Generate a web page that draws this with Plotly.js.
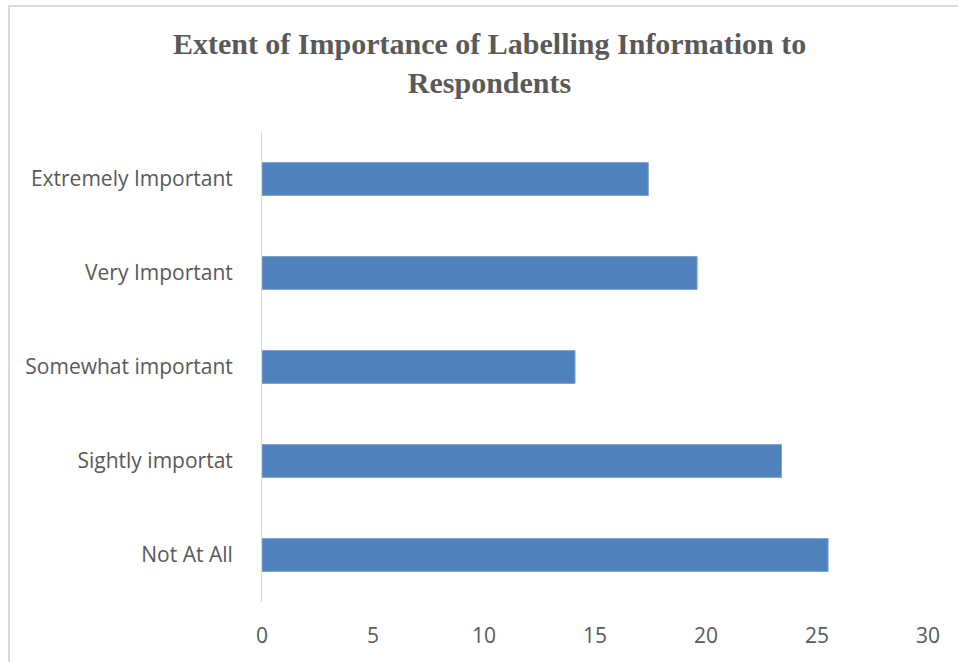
<!DOCTYPE html>
<html>
<head>
<meta charset="utf-8">
<script src="https://cdn.plot.ly/plotly-3.0.1.min.js"></script>
<style>
html,body{margin:0;padding:0;background:#fff;}
#wrap{position:relative;width:958px;height:662px;overflow:hidden;}
#chart{position:absolute;left:0;top:0;width:958px;height:662px;}
#frame{position:absolute;left:8px;top:5px;width:960px;height:670px;border-left:2px solid #d9d9d9;border-top:2px solid #d9d9d9;pointer-events:none;box-sizing:border-box;}
</style>
</head>
<body>
<div id="wrap"><div id="chart"></div><div id="frame"></div></div>
<script>
const categories = ["Not At All", "Sightly importat", "Somewhat important", "Very Important", "Extremely Important"];
const values = [25.5, 23.4, 14.1, 19.6, 17.4];
const xTicks = [0, 5, 10, 15, 20, 25, 30];

const trace = {
  type: 'bar',
  orientation: 'h',
  y: categories,
  x: values,
  marker: {color: '#4f81bd', line: {color: '#7fa3d0', width: 1}},
  hoverinfo: 'x+y'
};

const layout = {
  width: 958,
  height: 662,
  margin: {l: 262, r: 30, t: 132, b: 60},
  paper_bgcolor: '#ffffff',
  plot_bgcolor: '#ffffff',
  showlegend: false,
  bargap: 0.65,
  title: {
    text: 'Extent of Importance of Labelling Information to<br>Respondents',
    font: {family: 'Liberation Serif, Times New Roman, serif', size: 30, color: '#595959', weight: 'bold'},
    x: 0.511, xref: 'container', xanchor: 'center',
    y: 0.918, yref: 'container', yanchor: 'middle'
  },
  xaxis: {
    range: [0, 30],
    tickvals: xTicks,
    ticktext: xTicks.map(String),
    showgrid: false,
    zeroline: false,
    showline: false,
    ticks: '',
    ticklabelstandoff: 19,
    tickfont: {family: 'Open Sans, Liberation Sans, sans-serif', size: 21, color: '#595959'}
  },
  yaxis: {
    type: 'category',
    categoryorder: 'array',
    categoryarray: categories,
    range: [-0.5, 4.5],
    showgrid: false,
    zeroline: false,
    showline: true,
    linecolor: '#d9d9d9',
    linewidth: 1,
    ticks: '',
    ticklabelstandoff: 24,
    tickfont: {family: 'Open Sans, Liberation Sans, sans-serif', size: 21, color: '#595959'}
  }
};

Plotly.newPlot('chart', [trace], layout, {displayModeBar: false, staticPlot: true});
</script>
</body>
</html>
